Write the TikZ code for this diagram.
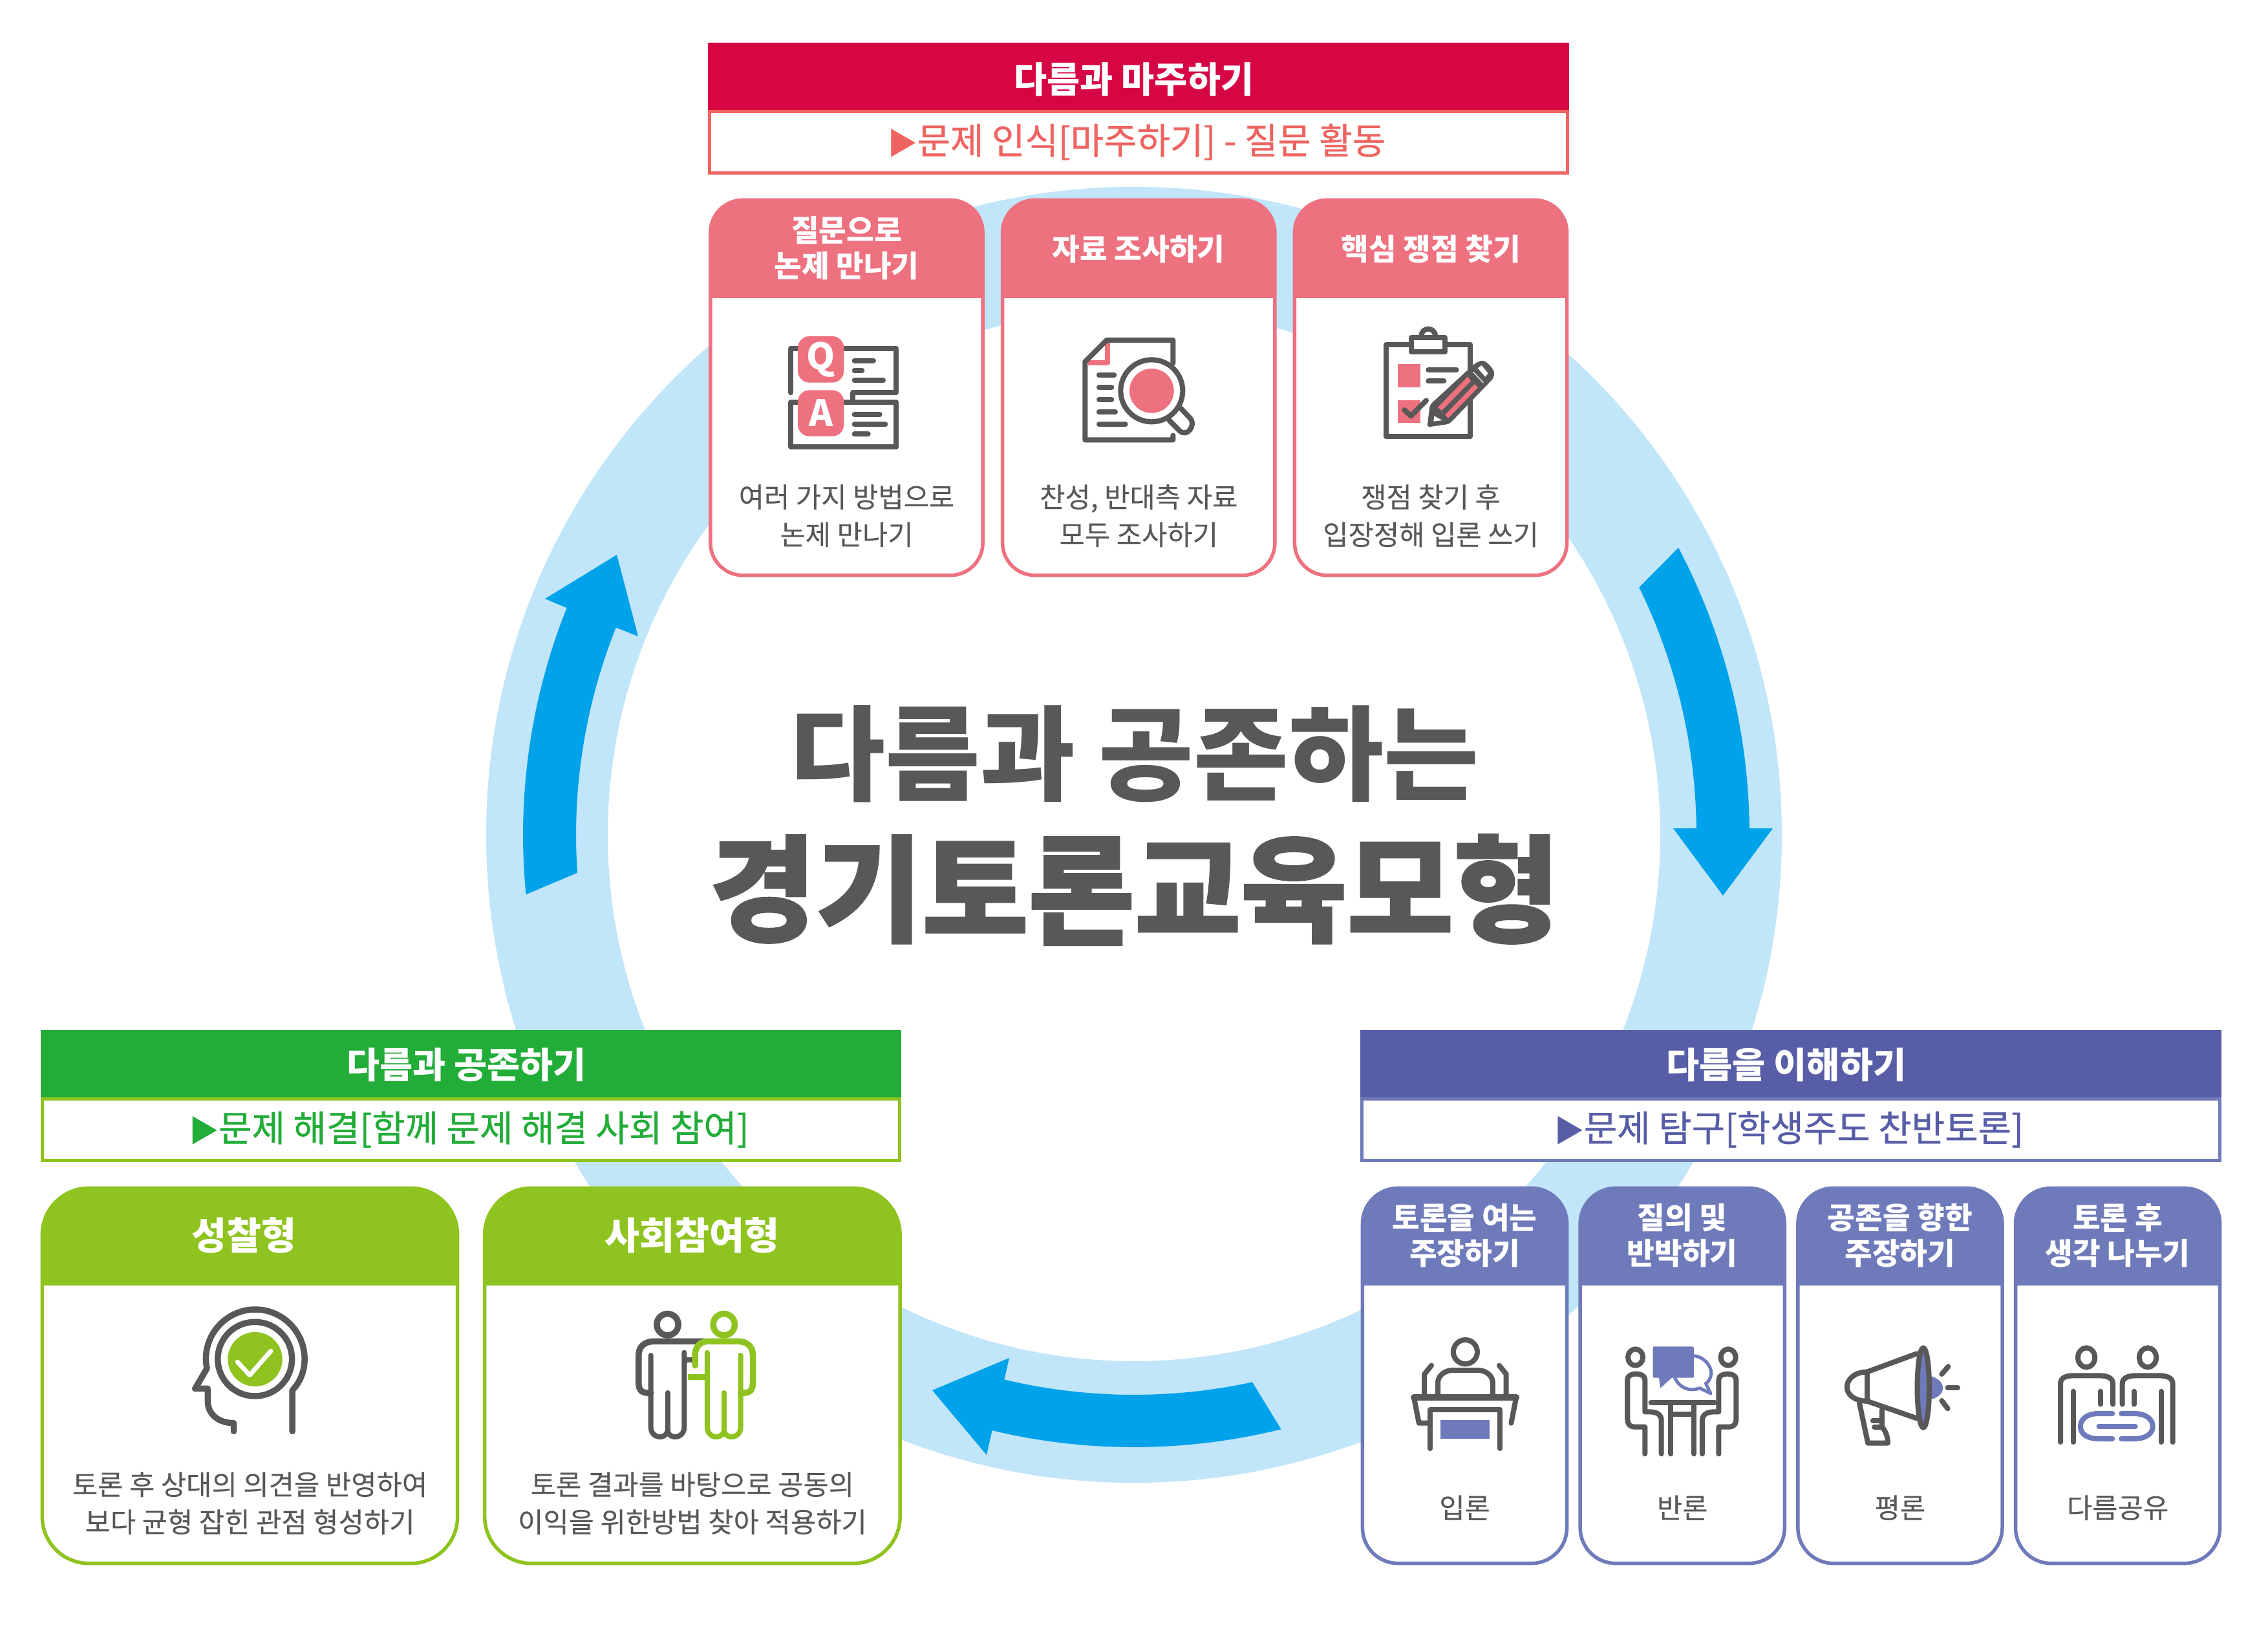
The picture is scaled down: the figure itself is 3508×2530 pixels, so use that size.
\documentclass[tikz,border=0pt]{standalone}
\usepackage{fontspec}
\setmainfont{Noto Sans CJK KR}
\newfontfamily\heavyfont{Noto Sans CJK KR}[BoldFeatures={FakeBold=1.6}]
\newfontfamily\subfont{Noto Sans CJK KR}[FakeBold=0.7]
\newfontfamily\bodyfont{Noto Sans CJK KR}[FakeBold=0.15]
\usetikzlibrary{positioning}

\definecolor{ringblue}{HTML}{C1E5F9}
\definecolor{arrowblue}{HTML}{00A2E9}
\definecolor{gry}{HTML}{595757}
\definecolor{redband}{HTML}{D60644}
\definecolor{redline}{HTML}{EE6461}
\definecolor{pinkcard}{HTML}{EE717F}
\definecolor{greenband}{HTML}{22AC38}
\definecolor{limecard}{HTML}{8FC31F}
\definecolor{navyband}{HTML}{575DA6}
\definecolor{pericard}{HTML}{6F7ABA}

\tikzset{
  bandbox/.style={minimum width=13.31cm, minimum height=1.03cm, inner sep=0pt, outer sep=0pt},
  bandtext/.style={text=white, inner sep=0pt, font=\bfseries\fontsize{15.8}{20}\selectfont},
  subbox/.style={draw=#1, text=#1, fill=white, line width=.05cm, minimum width=13.26cm, minimum height=.95cm,
    inner sep=0pt, outer sep=0pt, font=\subfont\fontsize{15.9}{20}\selectfont},
  card/.style n args={4}{draw=#1, fill=white, line width=.055cm, rounded corners=#2, minimum width=#3,
    minimum height=5.80cm, inner sep=0pt, outer sep=0pt,
    path picture={\fill[#1, sharp corners] (path picture bounding box.north west) rectangle ([yshift=-#4]path picture bounding box.north east);}},
  cardhead/.style={text=white, align=center, inner sep=0pt, font=\bfseries\fontsize{13.2}{15.6}\selectfont},
  cardtext/.style={text=gry, align=center, inner sep=0pt, font=\bodyfont\fontsize{12.15}{16.5}\selectfont},
  iconline/.style={draw=gry, line width=.08cm, line cap=round, line join=round},
  letter/.style={text=white, inner sep=0pt, font=\bfseries\fontsize{16}{16}\selectfont},
}
\newcommand{\tri}{{\fontsize{13}{13}\selectfont ▶}}

\begin{document}
\begin{tikzpicture}[x=0.01cm, y=-0.01cm]
  \useasboundingbox (0,0) rectangle (3508,2530);

  % Ring and arrows
  \draw[ringblue, line width=1.88cm] (1754,1291) circle [radius=908];
  \fill[arrowblue] plot[domain=27.8:0.6,samples=30] ({1754+952*cos(\x)},{1291-952*sin(\x)})
    -- (2742,1281) -- (2665,1385) -- (2588,1281)
    -- plot[domain=0.66:26.1,samples=30] ({1754+870*cos(\x)},{1291-870*sin(\x)}) -- cycle;
  \fill[arrowblue] plot[domain=283.9:256.6,samples=30] ({1754+947*cos(\x)},{1291-947*sin(\x)})
    -- (1526,2250) -- (1442,2150) -- (1561,2100)
    -- plot[domain=256.6:282.2,samples=30] ({1754+866*cos(\x)},{1291-866*sin(\x)}) -- cycle;
  \fill[arrowblue] plot[domain=185.6:158.2,samples=30] ({1754+945*cos(\x)},{1291-945*sin(\x)})
    -- (843,926) -- (954,858) -- (987,984)
    -- plot[domain=158.2:183.9,samples=30] ({1754+863*cos(\x)},{1291-863*sin(\x)}) -- cycle;

  % Title
  \node[text=gry, inner sep=0pt, font=\bfseries\fontsize{45.4}{45}\selectfont] (title1) at (1755,1166) {다름과 공존하는};
  \node[text=gry, inner sep=0pt, font=\heavyfont\bfseries\fontsize{50.8}{50}\selectfont] (title2) at (1755,1376) {경기토론교육모형};

  % Top group
  \node[bandbox, fill=redband] (face) at (1761,118) {};
  \node[bandtext] (facetext) at ([xshift=-.07cm,yshift=-.045cm]face.center) {다름과 마주하기};
  \node[subbox=redline, below=0.025cm of face] (facesub) {\tri 문제 인식[마주하기] - 질문 활동\hspace*{.06cm}};
  \node[card={pinkcard}{.5cm}{4.21cm}{1.52cm}] (ask) at (1309.5,599.5) {};
  \node[card={pinkcard}{.5cm}{4.21cm}{1.52cm}, right=.305cm of ask] (search) {};
  \node[card={pinkcard}{.5cm}{4.21cm}{1.52cm}, right=.305cm of search] (issue) {};
  \node[cardhead] (askhead) at ([yshift=-.74cm]ask.north) {질문으로\\논제 만나기};
  \node[cardhead] (searchhead) at ([yshift=-.76cm]search.north) {자료 조사하기};
  \node[cardhead] (issuehead) at ([yshift=-.76cm]issue.north) {핵심 쟁점 찾기};
  \node[cardtext] (asktext) at ([yshift=.92cm]ask.south) {여러 가지 방법으로\\논제 만나기};
  \node[cardtext] (searchtext) at ([yshift=.92cm]search.south) {찬성, 반대측 자료\\모두 조사하기};
  \node[cardtext] (issuetext) at ([yshift=.92cm]issue.south) {쟁점 찾기 후\\입장정해 입론 쓰기};

  % Right group
  \node[bandbox, fill=navyband] (understand) at (2770,1645) {};
  \node[bandtext] (understandtext) at ([xshift=-.07cm,yshift=-.02cm]understand.center) {다름을 이해하기};
  \node[subbox=pericard, below=0.025cm of understand] (understandsub) {\textcolor{navyband}{\tri 문제 탐구[학생주도 찬반토론]}\hspace*{.06cm}};
  \node[card={pericard}{.55cm}{3.16cm}{1.51cm}] (open) at (2265.5,2127.5) {};
  \node[card={pericard}{.55cm}{3.16cm}{1.51cm}, right=.205cm of open] (rebut) {};
  \node[card={pericard}{.55cm}{3.16cm}{1.51cm}, right=.205cm of rebut] (coexist) {};
  \node[card={pericard}{.55cm}{3.16cm}{1.51cm}, right=.205cm of coexist] (share) {};
  \node[cardhead] (openhead) at ([yshift=-.73cm]open.north) {토론을 여는\\주장하기};
  \node[cardhead] (rebuthead) at ([yshift=-.73cm]rebut.north) {질의 및\\반박하기};
  \node[cardhead] (coexisthead) at ([yshift=-.73cm]coexist.north) {공존을 향한\\주장하기};
  \node[cardhead] (sharehead) at ([yshift=-.73cm]share.north) {토론 후\\생각 나누기};
  \node[cardtext] (opentext) at ([yshift=.86cm]open.south) {입론};
  \node[cardtext] (rebuttext) at ([yshift=.86cm]rebut.south) {반론};
  \node[cardtext] (coexisttext) at ([yshift=.86cm]coexist.south) {평론};
  \node[cardtext] (sharetext) at ([yshift=.86cm]share.south) {다름공유};

  % Left group
  \node[bandbox, fill=greenband] (live) at (728.5,1645) {};
  \node[bandtext] (livetext) at ([xshift=-.07cm,yshift=-.02cm]live.center) {다름과 공존하기};
  \node[subbox=limecard, below=0.025cm of live] (livesub) {\textcolor{greenband}{\tri 문제 해결[함께 문제 해결 사회 참여]}\hspace*{.06cm}};
  \node[card={limecard}{.72cm}{6.42cm}{1.51cm}] (reflect) at (386.5,2127.5) {};
  \node[card={limecard}{.72cm}{6.42cm}{1.51cm}, right=.42cm of reflect] (engage) {};
  \node[cardhead, font=\bfseries\fontsize{16.7}{18}\selectfont] (reflecthead) at ([xshift=-.09cm,yshift=-.73cm]reflect.north) {성찰형};
  \node[cardhead, font=\bfseries\fontsize{16.7}{18}\selectfont] (engagehead) at ([yshift=-.73cm]engage.north) {사회참여형};
  \node[cardtext] (reflecttext) at ([yshift=.93cm]reflect.south) {토론 후 상대의 의견을 반영하여\\보다 균형 잡힌 관점 형성하기};
  \node[cardtext] (engagetext) at ([yshift=.93cm]engage.south) {토론 결과를 바탕으로 공동의\\이익을 위한방법 찾아 적용하기};

  % Question and answer icon
  \begin{scope}[shift={(1190,500)}, scale=1/3]
    \draw[iconline] (100,322) -- (100,116) -- (589,116) -- (589,322) -- (388,322) -- (388,365);
    \draw[iconline] (100,365) rectangle (589,572);
    \fill[pinkcard, rounded corners=.18cm] (132,60) rectangle (346,275);
    \fill[pinkcard, rounded corners=.18cm] (132,310) rectangle (346,524);
    \node[letter] (qmark) at (239,168) {Q};
    \node[letter] (amark) at (239,417) {A};
    \foreach \a/\b/\c in {483/173/395, 430/219/395, 528/265/395, 512/422/395, 538/468/395, 458/514/395}
      \draw[iconline] (\c,\b) -- (\a,\b);
  \end{scope}

  % Search icon
  \begin{scope}[shift={(1640,500)}, scale=1/3]
    \draw[pinkcard, line width=.08cm, line join=round] (218,90) -- (218,182) -- (130,182);
    \draw[iconline] (523,185) -- (523,78) -- (215,78) -- (115,178) -- (115,541) -- (523,541) -- (523,520);
    \foreach \a/\b in {250/240, 238/297, 238/353, 255/411, 302/469}
      \draw[iconline] (180,\b) -- (\a,\b);
    \draw[iconline] (560,395) -- (605,443) .. controls (628,472) and (590,530) .. (555,500) -- (505,450);
    \draw[iconline, fill=white] (424,313) circle [radius=144];
    \fill[pinkcard] (424,313) circle [radius=103];
  \end{scope}

  % Clipboard icon
  \begin{scope}[shift={(2100,490)}, scale=1/3]
    \draw[iconline] (132,128) rectangle (522,555);
    \draw[iconline] (295,90) .. controls (295,45) and (360,45) .. (360,90);
    \draw[iconline, fill=white] (248,97) rectangle (405,162);
    \fill[pinkcard] (186,219) rectangle (291,326);
    \fill[pinkcard] (186,387) rectangle (291,492);
    \draw[iconline] (328,245) -- (458,245);
    \draw[iconline] (328,298) -- (400,298);
    \draw[iconline] (217,432) -- (247,460) -- (318,388);
    \fill[gry, rounded corners=.04cm] (322,512) -- (335,408) -- (545,215) -- (580,200) -- (610,220) -- (635,255) -- (630,285) -- (425,497) -- cycle;
    \fill[pinkcard] (372,420) -- (390,435) -- (525,297) -- (510,278) -- cycle;
    \fill[pinkcard] (405,455) -- (420,470) -- (558,328) -- (543,312) -- cycle;
    \fill[white] (557,238) -- (575,225) -- (605,262) -- (592,278) -- cycle;
    \draw[white, line width=.012cm] (535,255) -- (583,305);
    \fill[white] (355,460) -- (352,485) -- (392,480) -- cycle;
  \end{scope}

  % Head icon
  \begin{scope}[shift={(280,2010)}, xscale=1/1.742, yscale=1/3]
    \draw[iconline, line width=.095cm] (300,610) -- (300,420) .. controls (322,380) and (333,330) .. (333,275)
      .. controls (333,148) and (273,45) .. (200,45) .. controls (127,45) and (67,148) .. (67,275)
      .. controls (67,290) and (68,305) .. (70,318) -- (38,412) -- (72,412) -- (72,470)
      .. controls (72,530) and (100,572) .. (142,572) -- (142,610);
    \draw[iconline, line width=.095cm] (199,275) circle [x radius=100, y radius=172];
    \fill[limecard] (199.5,276) circle [x radius=73.5, y radius=126];
    \draw[white, line width=.07cm, line cap=round, line join=round] (152,288) -- (185,350) -- (242,238);
  \end{scope}

  % People icon
  \begin{scope}[shift={(280,2010)}, xscale=1/1.742, yscale=1/3]
    \draw[iconline, line width=.095cm] (1311,115) circle [x radius=29, y radius=50];
    \draw[iconline] (1266,258) -- (1266,590) .. controls (1266,645) and (1305,650) .. (1311,610)
      .. controls (1317,650) and (1356,645) .. (1356,590) -- (1356,245);
    \draw[iconline] (1311,610) -- (1311,432);
    \draw[iconline, line width=.095cm] (1266,432) .. controls (1245,435) and (1233,425) .. (1233,385) -- (1233,260)
      .. controls (1233,215) and (1250,193) .. (1275,193) -- (1410,193);
    \draw[iconline, line cap=butt] (1356,280) -- (1385,280);
    \draw[iconline, draw=limecard, line width=.095cm] (1463,115) circle [x radius=29, y radius=50];
    \draw[iconline, draw=limecard] (1418,245) -- (1418,590) .. controls (1418,645) and (1457,650) .. (1463,610)
      .. controls (1469,650) and (1508,645) .. (1508,590) -- (1508,258);
    \draw[iconline, draw=limecard] (1463,610) -- (1463,432);
    \draw[iconline, draw=limecard, line width=.095cm] (1508,432) .. controls (1530,435) and (1541,425) .. (1541,385) -- (1541,260)
      .. controls (1541,215) and (1525,193) .. (1500,193) -- (1420,193)
      .. controls (1395,193) and (1385,225) .. (1385,260) -- (1385,305);
    \draw[iconline, draw=limecard, line cap=butt, line width=.095cm] (1365,358) -- (1418,358);
  \end{scope}

  % Podium icon
  \begin{scope}[shift={(2170,2050)}, xscale=1/1.296, yscale=1/3]
    \draw[iconline] (125,122) circle [x radius=24, y radius=56];
    \draw[iconline] (70,325) -- (70,265) .. controls (70,230) and (85,207) .. (100,207) -- (150,207)
      .. controls (165,207) and (180,230) .. (180,265) -- (180,325);
    \draw[iconline] (43,325) -- (43,225) -- (57,185);
    \draw[iconline] (207,325) -- (207,225) -- (193,185);
    \draw[iconline, line width=.1cm] (22,333) -- (227,333);
    \draw[iconline] (22,333) -- (32,452) -- (50,452);
    \draw[iconline] (227,333) -- (217,452);
    \draw[iconline] (55,570) -- (55,390) -- (195,390) -- (195,570);
    \fill[pericard] (75,438) rectangle (174,526);
  \end{scope}

  % Debate icon
  \begin{scope}[shift={(2170,2050)}, xscale=1/1.296, yscale=1/3]
    \fill[pericard, rounded corners=.02cm] (501,97) rectangle (583,242);
    \fill[pericard] (513,240) -- (516,290) -- (540,240) -- cycle;
    \draw[pericard, line width=.05cm, line cap=round, line join=round] (583,140) .. controls (605,145) and (618,190) .. (618,220)
      .. controls (618,240) and (612,265) .. (607,268) -- (617,315) -- (595,290) .. controls (570,310) and (552,280) .. (545,242);
    \draw[iconline] (466,147) circle [x radius=15, y radius=38];
    \draw[iconline] (652,147) circle [x radius=15, y radius=38];
    \draw[iconline] (485,595) -- (485,470) -- (465,470) .. controls (450,470) and (450,440) .. (450,430) -- (450,250)
      .. controls (450,215) and (485,215) .. (485,250) -- (485,400) -- (495,400) .. controls (510,400) and (518,415) .. (518,440) -- (518,595);
    \draw[iconline] (633,595) -- (633,470) -- (653,470) .. controls (668,470) and (668,440) .. (668,430) -- (668,250)
      .. controls (668,215) and (633,215) .. (633,250) -- (633,400) -- (623,400) .. controls (608,400) and (600,415) .. (600,440) -- (600,595);
    \draw[iconline] (497,358) -- (625,358);
    \draw[iconline] (537,358) -- (537,595);
    \draw[iconline] (583,358) -- (583,595);
    \draw[iconline] (537,410) -- (583,410);
  \end{scope}

  % Megaphone icon
  \begin{scope}[shift={(2170,2050)}, xscale=1/1.296, yscale=1/3]
    \fill[pericard] (1060,235) .. controls (1090,260) and (1090,320) .. (1060,342) -- cycle;
    \draw[iconline] (930,215) -- (1030,130);
    \draw[iconline] (930,350) -- (1030,430);
    \draw[iconline] (930,215) -- (930,350);
    \draw[iconline] (930,215) .. controls (905,215) and (890,250) .. (890,285) .. controls (890,320) and (905,350) .. (930,350);
    \draw[iconline] (915,360) -- (932,545) -- (972,545) .. controls (972,510) and (965,480) .. (960,470) -- (960,392);
    \draw[iconline] (942,440) -- (955,440);
    \draw[iconline] (945,470) -- (960,470);
    \draw[iconline, fill=pericard] (1043,288) circle [x radius=12, y radius=185];
    \draw[iconline] (1093,190) -- (1080,225);
    \draw[iconline] (1092,288) -- (1112,288);
    \draw[iconline] (1080,348) -- (1092,385);
  \end{scope}

  % Sharing icon
  \begin{scope}[shift={(2170,2050)}, xscale=1/1.296, yscale=1/3]
    \draw[iconline] (1370,148) circle [x radius=17, y radius=45];
    \draw[iconline] (1493,148) circle [x radius=17, y radius=45];
    \draw[iconline] (1318,540) -- (1318,270) .. controls (1318,240) and (1330,232) .. (1345,232) -- (1395,232)
      .. controls (1410,232) and (1423,240) .. (1423,270) -- (1423,365);
    \draw[iconline] (1442,365) -- (1442,270) .. controls (1442,240) and (1455,232) .. (1470,232) -- (1515,232)
      .. controls (1530,232) and (1543,240) .. (1543,270) -- (1543,540);
    \draw[iconline] (1344,305) -- (1344,540);
    \draw[iconline] (1398,305) -- (1398,365);
    \draw[iconline] (1466,305) -- (1466,365);
    \draw[iconline] (1520,305) -- (1520,540);
    \draw[iconline, draw=pericard] (1422,408) -- (1395,408) .. controls (1370,408) and (1358,435) .. (1358,468)
      .. controls (1358,500) and (1370,525) .. (1395,525) -- (1422,525);
    \draw[iconline, draw=pericard] (1440,408) -- (1465,408) .. controls (1490,408) and (1503,435) .. (1503,468)
      .. controls (1503,500) and (1490,525) .. (1465,525) -- (1440,525);
    \draw[iconline, draw=pericard] (1395,467) -- (1468,467);
  \end{scope}

\end{tikzpicture}
\end{document}
